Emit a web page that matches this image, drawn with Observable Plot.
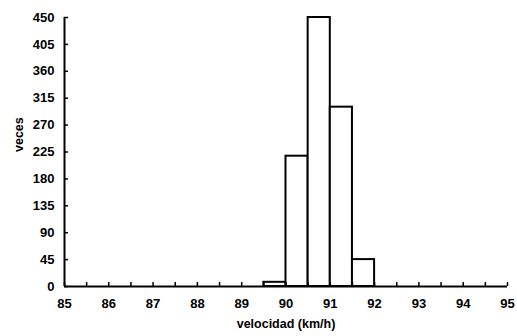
<!DOCTYPE html>
<html><head><meta charset="utf-8">
<script src="https://cdn.jsdelivr.net/npm/d3@7"></script>
<script src="https://cdn.jsdelivr.net/npm/@observablehq/plot@0.6"></script>
<style>
html,body{margin:0;padding:0;background:#fff;}
svg{display:block;}
svg text{font-weight:bold;}
</style>
</head><body><div id="chart"></div>
<script>
const binStart = [89.5, 90, 90.5, 91, 91.5];
const binWidth = 0.5;
const counts = [7, 218, 450, 300, 45];
const xTicks = [85, 86, 87, 88, 89, 90, 91, 92, 93, 94, 95];
const xMinorTicks = d3.range(85, 95.01, 0.5);
const yTicks = [0, 45, 90, 135, 180, 225, 270, 315, 360, 405, 450];

const bins = binStart.map((s, i) => ({x1: s, x2: s + binWidth, y: counts[i]}));

const W = 517, H = 336, mL = 64, mR = 10, mT = 17, mB = 50;
const fw = W - mL - mR, fh = H - mT - mB;

const chart = Plot.plot({
  width: W, height: H,
  marginLeft: mL, marginRight: mR, marginTop: mT, marginBottom: mB,
  style: {fontFamily: "'Liberation Sans', Arial, sans-serif", fontWeight: "bold", fontSize: "12px", color: "#000", background: "#fff"},
  x: {domain: [85, 95], ticks: xTicks, label: null},
  y: {domain: [0, 450], ticks: yTicks, label: null},
  marks: [
    Plot.rectY(bins, {x1: "x1", x2: "x2", y: "y", fill: "#fff", stroke: "#000", strokeWidth: 2}),
    Plot.ruleY([0], {stroke: "#000", strokeWidth: 2}),
    Plot.ruleX([85], {stroke: "#000", strokeWidth: 2}),
    Plot.tickY(yTicks, {y: d => d, stroke: "#000", strokeWidth: 1.5, insetRight: fw - 4}),
    Plot.tickX(xMinorTicks, {x: d => d, stroke: "#000", strokeWidth: 1.5, insetTop: fh - 4}),
    Plot.axisY({ticks: yTicks, tickSize: 0, tickPadding: 10, fontSize: 13, label: null}),
    Plot.axisX({ticks: xTicks, tickSize: 0, tickPadding: 12, fontSize: 13, label: null}),
    Plot.text(["velocidad (km/h)"], {frameAnchor: "bottom", dy: 41, fontSize: 12.5}),
    Plot.text(["veces"], {frameAnchor: "left", dx: -46, rotate: -90, fontSize: 12.5})
  ]
});
document.getElementById("chart").append(chart);
</script>
</body></html>
